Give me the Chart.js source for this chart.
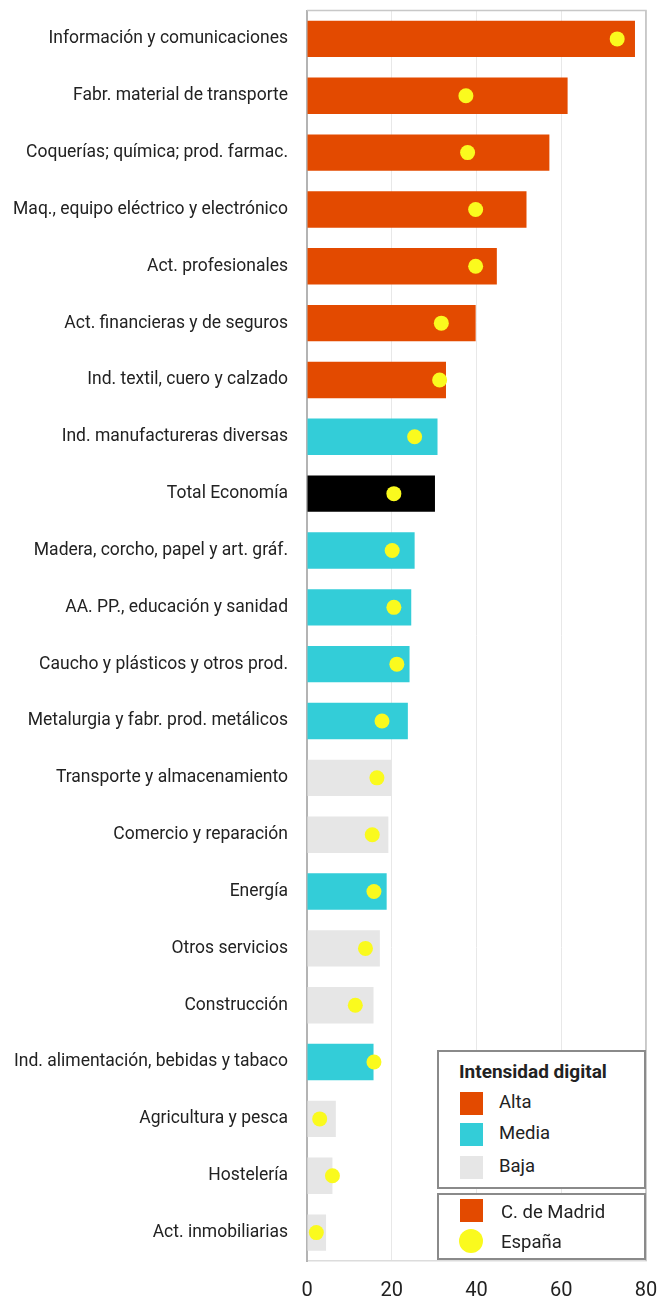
<!DOCTYPE html>
<html>
<head>
<meta charset="utf-8">
<script src="https://cdn.jsdelivr.net/npm/chart.js@4.4.1/dist/chart.umd.min.js"></script>
<style>
  html, body { margin: 0; padding: 0; background: #fff; }
  #wrap { position: relative; width: 665px; height: 1304px; }
  canvas { position: absolute; left: 0; top: 0; }
  .box { position: absolute; border: 2px solid #8a8a8a; background: #fff; box-sizing: border-box; font-family: Roboto, "Noto Sans", sans-serif; color: #222; }
  .lg-title { position: absolute; font-weight: bold; font-size: 19px; line-height: 22px; white-space: nowrap; }
  .lg-item { position: absolute; font-size: 18.5px; line-height: 23px; white-space: nowrap; }
  .sw { position: absolute; width: 23px; height: 23px; }
  .dot { position: absolute; width: 24px; height: 24px; border-radius: 50%; }
</style>
</head>
<body>
<div id="wrap">
  <canvas id="c" width="665" height="1304"></canvas>
  <div class="box" style="left:437px; top:1050px; width:209px; height:139px;">
    <div class="lg-title" style="left:20px; top:9px;">Intensidad digital</div>
    <div class="sw" id="swA" style="left:21px; top:40px;"></div>
    <div class="lg-item" style="left:60px; top:39px;">Alta</div>
    <div class="sw" id="swM" style="left:21px; top:71px;"></div>
    <div class="lg-item" style="left:60px; top:70px;">Media</div>
    <div class="sw" id="swB" style="left:21px; top:104px;"></div>
    <div class="lg-item" style="left:60px; top:103px;">Baja</div>
  </div>
  <div class="box" style="left:437px; top:1193px; width:209px; height:67px;">
    <div class="sw" id="swC" style="left:21px; top:4px;"></div>
    <div class="lg-item" style="left:62px; top:6px;">C. de Madrid</div>
    <div class="dot" id="swE" style="left:20px; top:34px;"></div>
    <div class="lg-item" style="left:62px; top:36px;">España</div>
  </div>
</div>
<script>
const categories = [
  "Información y comunicaciones",
  "Fabr. material de transporte",
  "Coquerías; química; prod. farmac.",
  "Maq., equipo eléctrico y electrónico",
  "Act. profesionales",
  "Act. financieras y de seguros",
  "Ind. textil, cuero y calzado",
  "Ind. manufactureras diversas",
  "Total Economía",
  "Madera, corcho, papel y art. gráf.",
  "AA. PP., educación y sanidad",
  "Caucho y plásticos y otros prod.",
  "Metalurgia y fabr. prod. metálicos",
  "Transporte y almacenamiento",
  "Comercio y reparación",
  "Energía",
  "Otros servicios",
  "Construcción",
  "Ind. alimentación, bebidas y tabaco",
  "Agricultura y pesca",
  "Hostelería",
  "Act. inmobiliarias"
];
const madrid = [77.4, 61.5, 57.2, 51.8, 44.8, 39.8, 32.8, 30.8, 30.2, 25.4, 24.6, 24.2, 23.8, 19.9, 19.2, 18.8, 17.2, 15.7, 15.7, 6.8, 6.0, 4.5];
const espana = [73.2, 37.5, 37.9, 39.8, 39.8, 31.7, 31.3, 25.4, 20.5, 20.1, 20.5, 21.2, 17.7, 16.5, 15.4, 15.8, 13.8, 11.4, 15.8, 3.0, 6.0, 2.2];
const intensity = ["Alta","Alta","Alta","Alta","Alta","Alta","Alta","Media","Total","Media","Media","Media","Media","Baja","Baja","Media","Baja","Baja","Media","Baja","Baja","Baja"];
const xTicks = [0, 20, 40, 60, 80];

const COLORS = { Alta: "#e34a00", Media: "#33cdd8", Baja: "#e6e6e6", Total: "#000000", dot: "#fafa1e" };
document.getElementById("swA").style.background = COLORS.Alta;
document.getElementById("swM").style.background = COLORS.Media;
document.getElementById("swB").style.background = COLORS.Baja;
document.getElementById("swC").style.background = COLORS.Alta;
document.getElementById("swE").style.background = COLORS.dot;

const borderPlugin = {
  id: "frame",
  beforeDatasetsDraw(chart) {
    const { ctx, chartArea: a } = chart;
    ctx.save();
    ctx.strokeStyle = "#c8c8c8";
    ctx.lineWidth = 1.5;
    ctx.beginPath();
    ctx.moveTo(a.left, a.top);
    ctx.lineTo(a.right, a.top);
    ctx.lineTo(a.right, a.bottom);
    ctx.stroke();
    ctx.restore();
  }
};

new Chart(document.getElementById("c"), {
  type: "bar",
  data: {
    labels: categories,
    datasets: [
      {
        type: "line",
        label: "España",
        data: espana,
        showLine: false,
        pointRadius: 7.5,
        pointHoverRadius: 7.5,
        pointBackgroundColor: COLORS.dot,
        pointBorderWidth: 0,
        borderColor: COLORS.dot,
        backgroundColor: COLORS.dot,
        order: 0
      },
      {
        label: "C. de Madrid",
        data: madrid,
        backgroundColor: intensity.map(k => COLORS[k]),
        borderWidth: 0,
        barPercentage: 0.64,
        categoryPercentage: 1.0,
        order: 1
      }
    ]
  },
  options: {
    indexAxis: "y",
    responsive: false,
    animation: false,
    events: [],
    layout: { padding: { left: 0, right: 19, top: 10, bottom: 0 } },
    plugins: { legend: { display: false }, tooltip: { enabled: false } },
    scales: {
      x: {
        min: 0, max: 80,
        afterBuildTicks(s) { s.ticks = xTicks.map(v => ({ value: v })); },
        grid: {
          drawTicks: true,
          tickLength: 17,
          tickColor: "rgba(0,0,0,0)",
          color: ctx => (ctx.tick && ctx.tick.value === 80) ? "#c8c8c8" : "#e8e8e8",
          lineWidth: ctx => (ctx.tick && ctx.tick.value === 80) ? 1.5 : 1
        },
        border: { display: true, color: "#dcdcdc", width: 1.5 },
        ticks: { padding: 0, color: "#222", font: { family: "Roboto", size: 20, lineHeight: 1.3 } }
      },
      y: {
        afterFit(s) { s.width = 307; },
        grid: { display: true, drawOnChartArea: false, drawTicks: true, tickLength: 19, tickColor: "rgba(0,0,0,0)" },
        border: { display: true, color: "#b4b4b4", width: 2 },
        ticks: { padding: 0, color: "#222", font: { family: "Roboto", size: 17.5 } }
      }
    }
  },
  plugins: [borderPlugin]
});
</script>
</body>
</html>
